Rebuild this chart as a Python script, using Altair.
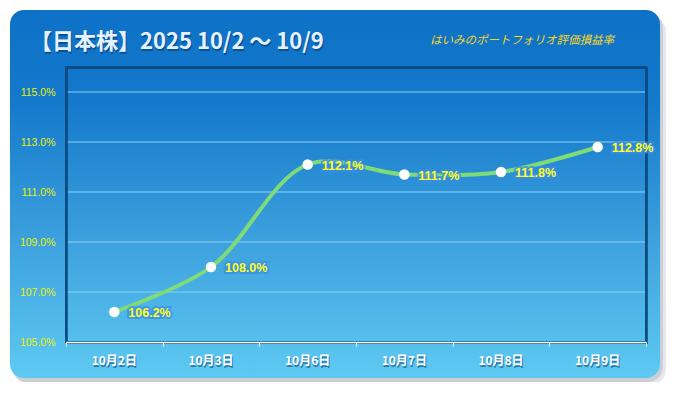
import altair as alt
import pandas as pd

dates = ["10月2日", "10月3日", "10月6日", "10月7日", "10月8日", "10月9日"]
values = [106.2, 108.0, 112.1, 111.7, 111.8, 112.8]
labels = ["106.2%", "108.0%", "112.1%", "111.7%", "111.8%", "112.8%"]
grid_values = [107, 109, 111, 113, 115]
title_text = "【日本株】2025 10/2 ～ 10/9"
subtitle_text = "はいみのポートフォリオ評価損益率"

df = pd.DataFrame({"date": dates, "value": values, "label": labels})
gdf = pd.DataFrame({"g": grid_values})
one = pd.DataFrame({"a": [0]})

W, H = 580, 275
FONT = "Noto Sans CJK JP"

xscale = alt.Scale(type="band", paddingInner=0, paddingOuter=0)
yscale = alt.Scale(domain=[105, 116], nice=False, zero=False)

xenc = alt.X("date:N", sort=dates, scale=xscale,
             axis=alt.Axis(title=None, labels=False, domainColor="white", domainWidth=1.5,
                           tickColor="white", tickSize=4, tickWidth=1, tickBand="extent",
                           grid=False, zindex=1))
yenc = alt.Y("value:Q", scale=yscale,
             axis=alt.Axis(title=None, values=[105, 107, 109, 111, 113, 115],
                           labelExpr="format(datum.value, '.1f') + '%'",
                           labelColor="#E8F000", labelFont="Liberation Sans", labelFontSize=10.5,
                           labelPadding=11, domain=False, ticks=False, grid=False, zindex=1))

grad = alt.Gradient(
    gradient="linear", x1=0, y1=0, x2=0, y2=1,
    stops=[alt.GradientStop(color="#0D72C7", offset=0),
           alt.GradientStop(color="#1479CB", offset=0.25),
           alt.GradientStop(color="#3A9EDC", offset=0.6),
           alt.GradientStop(color="#5ECAF2", offset=1)],
)

base1 = alt.Chart(one)
shadow2 = base1.mark_rect(color="#D5D9DE", cornerRadius=16, opacity=0.6).encode(
    x=alt.value(-52), x2=alt.value(600), y=alt.value(-51), y2=alt.value(318))
shadow1 = base1.mark_rect(color="#C2C8CF", cornerRadius=15, opacity=0.8).encode(
    x=alt.value(-54), x2=alt.value(597), y=alt.value(-54), y2=alt.value(315))
panel = base1.mark_rect(color=grad, cornerRadius=14).encode(
    x=alt.value(-56), x2=alt.value(594), y=alt.value(-57), y2=alt.value(311))

grid = alt.Chart(gdf).mark_rule(color="#8FD2F6", strokeWidth=1).encode(
    y=alt.Y("g:Q", scale=yscale), x=alt.value(0), x2=alt.value(W))

border_shadow = base1.mark_rect(fill=None, stroke="#083A66", strokeWidth=2, opacity=0.7).encode(
    x=alt.value(1), x2=alt.value(W + 1), y=alt.value(1), y2=alt.value(H + 1))
border = base1.mark_rect(fill=None, stroke="#0B4C84", strokeWidth=2).encode(
    x=alt.value(0), x2=alt.value(W), y=alt.value(0), y2=alt.value(H))

base = alt.Chart(df)
line = base.mark_line(color="#7EDB78", strokeWidth=4, interpolate="catmull-rom").encode(
    x=xenc, y=yenc)
points = base.mark_circle(color="white", opacity=1, size=110).encode(
    x=alt.X("date:N", sort=dates, scale=xscale), y=alt.Y("value:Q", scale=yscale))
glow = base.mark_text(align="left", baseline="middle", dx=14, dy=1, font="Liberation Sans",
                      fontSize=12.5, fontWeight="bold", color="#3A8CEA", stroke="#3A8CEA",
                      strokeWidth=4, strokeOpacity=0.75, opacity=0.9).encode(
    x=alt.X("date:N", sort=dates, scale=xscale), y=alt.Y("value:Q", scale=yscale), text="label:N")
dlabels = base.mark_text(align="left", baseline="middle", dx=14, dy=1, font="Liberation Sans",
                         fontSize=12.5, fontWeight="bold", color="#FFFF1A").encode(
    x=alt.X("date:N", sort=dates, scale=xscale), y=alt.Y("value:Q", scale=yscale), text="label:N")

xlab_shadow = base.mark_text(align="center", baseline="middle", dx=1, dy=1.5, font=FONT,
                             fontSize=12, fontWeight="bold", color="#1A5C8C", opacity=0.7).encode(
    x=alt.X("date:N", sort=dates, scale=xscale), y=alt.value(294), text="date:N")
xlab = base.mark_text(align="center", baseline="middle", font=FONT,
                      fontSize=12, fontWeight="bold", color="white").encode(
    x=alt.X("date:N", sort=dates, scale=xscale), y=alt.value(294), text="date:N")

title_shadow = base1.mark_text(align="left", baseline="middle", font=FONT, fontSize=22,
                               fontWeight="bold", color="#093A6B", opacity=0.6, text=title_text).encode(
    x=alt.value(-35), y=alt.value(-23.5))
title = base1.mark_text(align="left", baseline="middle", font=FONT, fontSize=22,
                        fontWeight="bold", color="#E6F2FF", text=title_text).encode(
    x=alt.value(-36), y=alt.value(-25))
subtitle = base1.mark_text(align="left", baseline="middle", font=FONT, fontSize=11.5,
                           fontStyle="italic", color="#F7D41E", text=subtitle_text).encode(
    x=alt.value(364), y=alt.value(-26))

chart = alt.layer(
    shadow2, shadow1, panel, grid, border_shadow, border, line, points, glow, dlabels,
    xlab_shadow, xlab, title_shadow, title, subtitle
).properties(
    width=W, height=H,
    autosize=alt.AutoSizeParams(type="none"),
    padding={"left": 58, "top": 59, "right": 21, "bottom": 40},
    background="white",
).configure_view(stroke=None)

chart.save("out.html", embed_options={"renderer": "svg", "actions": False})
